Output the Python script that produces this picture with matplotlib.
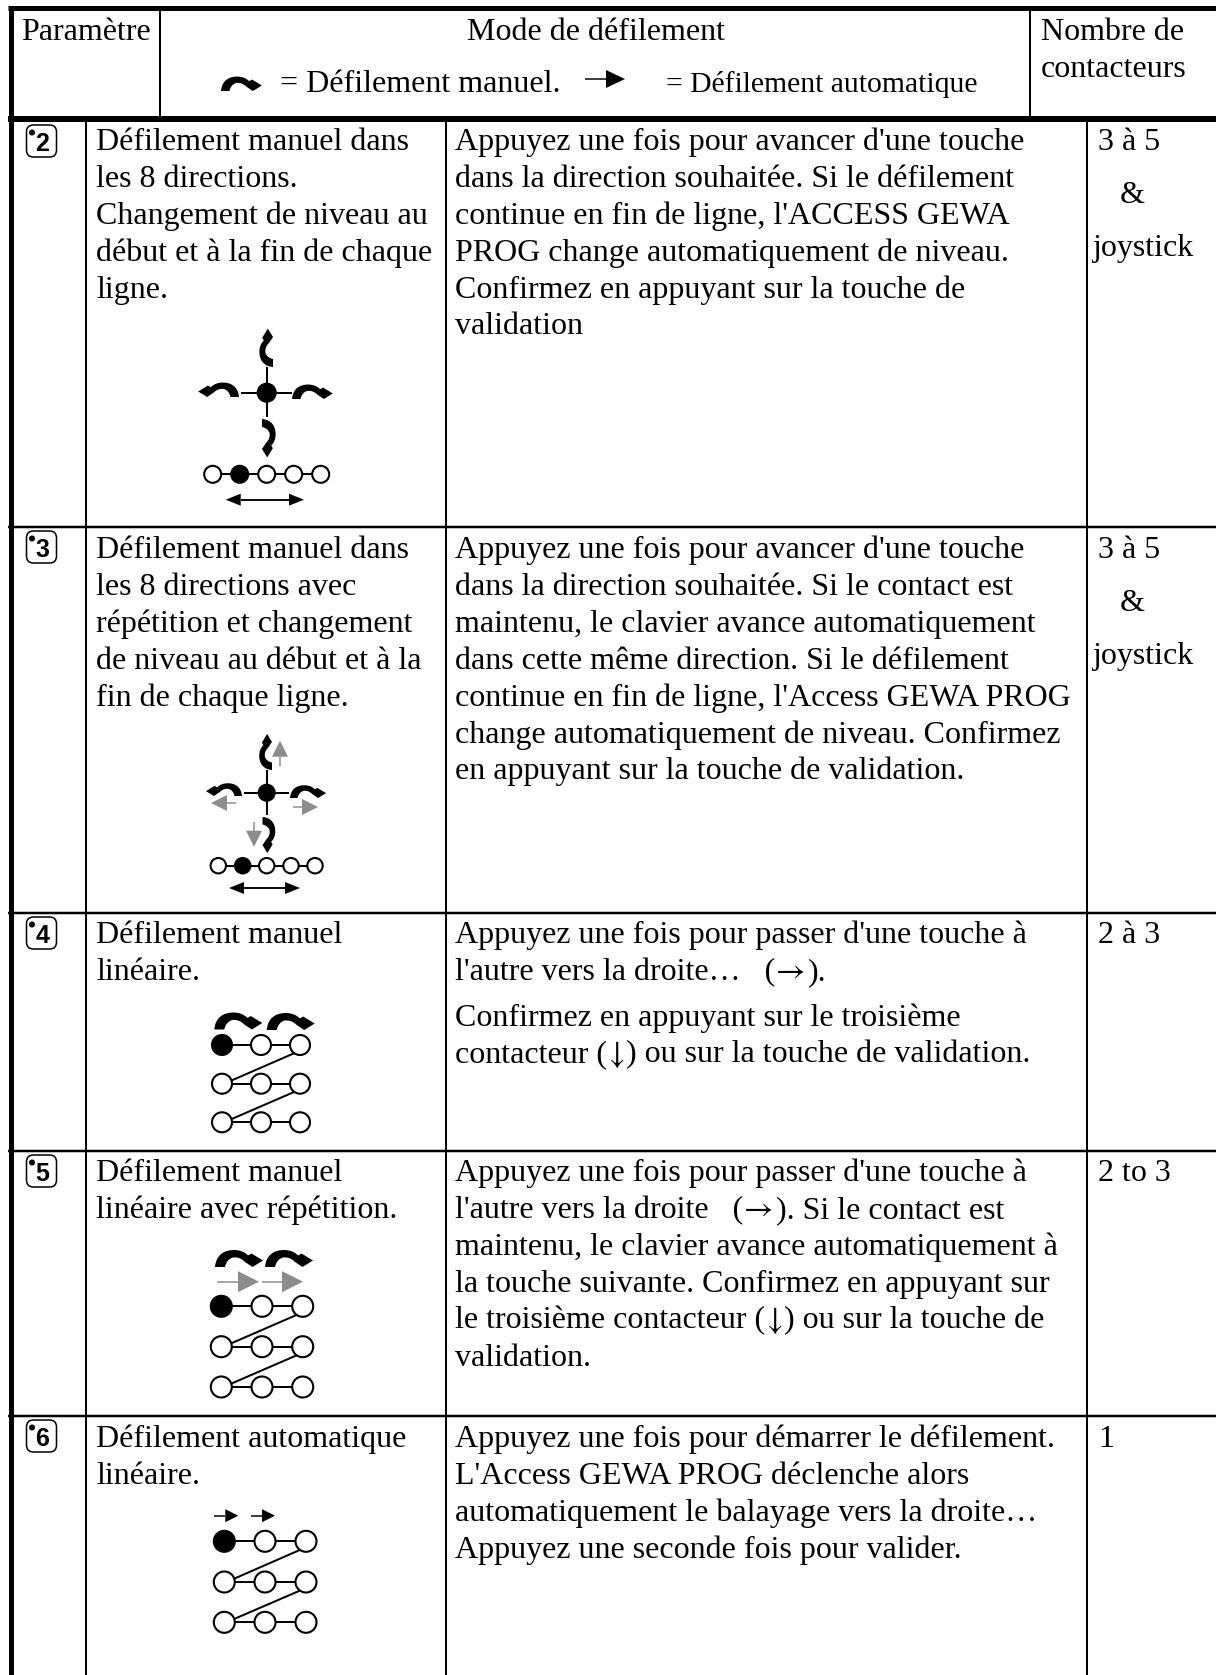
import numpy as np
import matplotlib
matplotlib.use("Agg")
import matplotlib.pyplot as plt
from matplotlib.patches import Circle, FancyBboxPatch, PathPatch, Polygon
from matplotlib.path import Path
from matplotlib.transforms import Affine2D

plt.rcParams['font.family'] = ['Liberation Serif', 'DejaVu Sans']

W, H = 1216, 1675
FS = 23.0
PITCH = 36.9

header_left = "Paramètre"
header_mid = "Mode de défilement"
header_manual = "= Défilement manuel."
header_auto = "= Défilement automatique"
header_right = ["Nombre de", "contacteurs"]

param_labels = ["2", "3", "4", "5", "6"]
modes = [
    ["Défilement manuel dans", "les 8 directions.", "Changement de niveau au",
     "début et à la fin de chaque", "ligne."],
    ["Défilement manuel dans", "les 8 directions avec", "répétition et changement",
     "de niveau au début et à la", "fin de chaque ligne."],
    ["Défilement manuel", "linéaire."],
    ["Défilement manuel", "linéaire avec répétition."],
    ["Défilement automatique", "linéaire."],
]
descriptions = [
    ["Appuyez une fois pour avancer d'une touche", "dans la direction souhaitée. Si le défilement",
     "continue en fin de ligne, l'ACCESS GEWA", "PROG change automatiquement de niveau.",
     "Confirmez en appuyant sur la touche de", "validation"],
    ["Appuyez une fois pour avancer d'une touche", "dans la direction souhaitée. Si le contact est",
     "maintenu, le clavier avance automatiquement", "dans cette même direction. Si le défilement",
     "continue en fin de ligne, l'Access GEWA PROG", "change automatiquement de niveau. Confirmez",
     "en appuyant sur la touche de validation."],
    ["Appuyez une fois pour passer d'une touche à", "l'autre vers la droite…   (→).", None,
     "Confirmez en appuyant sur le troisième", "contacteur (↓) ou sur la touche de validation."],
    ["Appuyez une fois pour passer d'une touche à", "l'autre vers la droite   (→). Si le contact est",
     "maintenu, le clavier avance automatiquement à", "la touche suivante. Confirmez en appuyant sur",
     "le troisième contacteur (↓) ou sur la touche de", "validation."],
    ["Appuyez une fois pour démarrer le défilement.", "L'Access GEWA PROG déclenche alors",
     "automatiquement le balayage vers la droite…", "Appuyez une seconde fois pour valider."],
]
counts = [["3 à 5", "&", "joystick"], ["3 à 5", "&", "joystick"], ["2 à 3"], ["2 to 3"], ["1"]]

# lignes du tableau, en pixels
row_tops = [121, 527, 913, 1151, 1416]
x_col1, x_col2, x_col3 = 86, 445.5, 1087
x_head1, x_head2 = 160, 1030

fig = plt.figure(figsize=(W / 100, H / 100), dpi=100)
ax = fig.add_axes([0, 0, 1, 1])
ax.set_xlim(0, W)
ax.set_ylim(H, 0)
ax.axis("off")
renderer = fig.canvas.get_renderer()


def line(x0, y0, x1, y1, lw=2.0, color="black"):
    ax.plot([x0, x1], [y0, y1], color=color, lw=lw * 0.72, solid_capstyle="butt", zorder=2)


def txt(x, y, s, size=FS, **kw):
    return ax.text(x, y, s, fontsize=size, color="black", va="baseline", **kw)


def rich(x, y, s):
    # les fleches du texte viennent d'une autre police, plus fine et plus large
    piece = ""
    for ch in s:
        if ch in "→↓":
            t = txt(x, y, piece)
            x = t.get_window_extent(renderer).x1 + 1
            t = txt(x, y, ch, family="STIXGeneral")
            x = t.get_window_extent(renderer).x1 + 2
            piece = ""
        else:
            piece += ch
    txt(x, y, piece)


def curved(x, y, scale=1.0, rot=0, flip=False):
    # fleche courbe, origine sur le bord gauche de la base
    verts = [(0, 0), (1, -12), (9, -17), (19, -17), (25, -17), (30, -15), (33, -11.5),
             (36.5, -13.5), (48, -6.5), (37.5, 0), (30, -5), (26, -9), (22, -10), (18, -9.5),
             (14, -8.5), (11, -5), (10, 0), (0, 0)]
    codes = [Path.MOVETO, Path.CURVE4, Path.CURVE4, Path.CURVE4, Path.CURVE4, Path.CURVE4, Path.CURVE4,
             Path.LINETO, Path.LINETO, Path.LINETO, Path.LINETO, Path.CURVE4, Path.CURVE4, Path.CURVE4,
             Path.CURVE4, Path.CURVE4, Path.CURVE4, Path.CLOSEPOLY]
    tr = Affine2D().scale(-scale if flip else scale, scale).rotate_deg(rot).translate(x, y)
    ax.add_patch(PathPatch(Path(verts, codes), fc="black", ec="none", transform=tr + ax.transData, zorder=4))


def straight(x0, y0, x1, y1, head=16, half=7, color="black", lw=1.5):
    d = np.array([x1 - x0, y1 - y0], float)
    d = d / np.hypot(*d)
    n = np.array([-d[1], d[0]])
    tip = np.array([x1, y1], float)
    b = tip - d * head
    line(x0, y0, b[0], b[1], lw=lw, color=color)
    ax.add_patch(Polygon([tip, b + n * half, b - n * half], fc=color, ec="none", zorder=4))


def dot(x, y, r, filled=False):
    ax.add_patch(Circle((x, y), r, fc="black" if filled else "white", ec="black", lw=1.5, zorder=3))


def node_row(y, xs, r, filled_i=None):
    line(xs[0], y, xs[-1], y, lw=2)
    for i, x in enumerate(xs):
        dot(x, y, r, i == filled_i)


def grid3(ys, xs, r):
    for a, b in zip(ys[:-1], ys[1:]):
        line(xs[-1] - r * 0.3, a + r * 0.7, xs[0] + r * 0.9, b - r * 0.3, lw=2)
    for j, y in enumerate(ys):
        node_row(y, xs, r, 0 if j == 0 else None)


def double(y, x0, x1, head=15, half=6, lw=1.5):
    straight(x0 + head, y, x1, y, head, half, lw=lw)
    straight(x1 - head, y, x0, y, head, half, lw=lw)


def badge(y, label):
    ax.add_patch(FancyBboxPatch((26.5, y + 4), 30, 32, boxstyle="round,pad=0,rounding_size=7",
                                fc="white", ec="black", lw=1.1, zorder=3))
    ax.add_patch(Circle((32, y + 11.5), 3, fc="black", ec="none", zorder=5))
    ax.text(42.5, y + 30, label, family="Liberation Sans", weight="bold", fontsize=18,
            ha="center", va="baseline", zorder=5)


# cadre
line(8, 8, W, 8, lw=5)
line(10.5, 6, 10.5, H, lw=5)
line(8, 118.5, W, 118.5, lw=6)
line(x_head1, 8, x_head1, 118, lw=2)
line(x_head2, 8, x_head2, 118, lw=2)
for top in row_tops[1:]:
    line(8, top, W, top, lw=2.5)
for x in (x_col1, x_col2, x_col3):
    line(x, 121, x, H, lw=2)

# en-tete
txt(21, 40, header_left)
txt(596, 40, header_mid, ha="center")
txt(280, 92, header_manual)
txt(666, 92, header_auto, size=21.3)
txt(1041, 40, header_right[0])
txt(1041, 77, header_right[1])
curved(221, 91, scale=0.85)
straight(585, 79, 625, 79, head=19, half=9, lw=1.5)

# contenu des lignes
mode_base = [150, 558, 943, 1181, 1447]
for i, top in enumerate(row_tops):
    badge(top, param_labels[i])
    for k, s in enumerate(modes[i]):
        txt(96, mode_base[i] + k * PITCH, s)
    y = mode_base[i]
    for k, s in enumerate(descriptions[i]):
        if s is not None:
            off = k - 1 if (i == 2 and k > 2) else k
            gap = 9 if (i == 2 and k > 2) else 0
            rich(455, y + off * PITCH + gap, s)
    for k, s in enumerate(counts[i]):
        dx = 22 if s == "&" else (-5 if s == "joystick" else 0)
        txt(1098 + dx, y + k * 52.8, s)

# ligne 2 : croix
xs = [212.7, 239.7, 266.7, 293.7, 320.7]
line(241, 392.7, 292, 392.7, lw=2)
line(266.7, 367, 266.7, 417, lw=2)
dot(266.7, 392.7, 9, True)
curved(292, 399, 0.85)
curved(239, 397, 0.85, flip=True)
curved(273, 367, 0.8, rot=-90)
curved(262, 419, 0.8, rot=90)
node_row(474.3, xs, 8.5, 1)
double(499.7, 225.7, 304)

# ligne 3 : croix et repetition
xs = [218.3, 242.7, 266.7, 291, 315]
line(244, 792.7, 289, 792.7, lw=2)
line(266.7, 770, 266.7, 815, lw=2)
dot(266.7, 792.7, 8, True)
curved(290, 798, 0.75)
curved(242, 796, 0.75, flip=True)
curved(272, 770, 0.75, rot=-90)
curved(262.5, 817, 0.75, rot=90)
gray = "#8c8c8c"
straight(280, 766, 280, 740.7, head=16, half=8, color=gray)
straight(293, 807, 318, 807, head=16, half=8, color=gray)
straight(235.7, 803, 211, 803, head=16, half=8, color=gray)
straight(254, 821.7, 254, 846.7, head=16, half=8, color=gray)
node_row(865.7, xs, 7.7, 1)
double(888, 229, 300)

# ligne 4
grid3([1045, 1083.7, 1122.3], [222, 261, 300], 10)
curved(214.3, 1029.5, 1.0)
curved(266.7, 1030, 1.0)

# ligne 5
grid3([1306.3, 1346.7, 1387], [221.3, 262, 302.7], 10.5)
curved(215, 1267, 1.0)
curved(265, 1267, 1.0)
straight(217, 1281.7, 259, 1281.7, head=21, half=10.5, color=gray)
straight(262, 1281.7, 303, 1281.7, head=21, half=10.5, color=gray)

# ligne 6
grid3([1541.3, 1582, 1622.3], [224.3, 265, 306], 10.5)
straight(214, 1515.7, 238.3, 1515.7, head=13, half=6.5)
straight(250.7, 1515.7, 275, 1515.7, head=13, half=6.5)

fig.savefig("out.png", dpi=100)
